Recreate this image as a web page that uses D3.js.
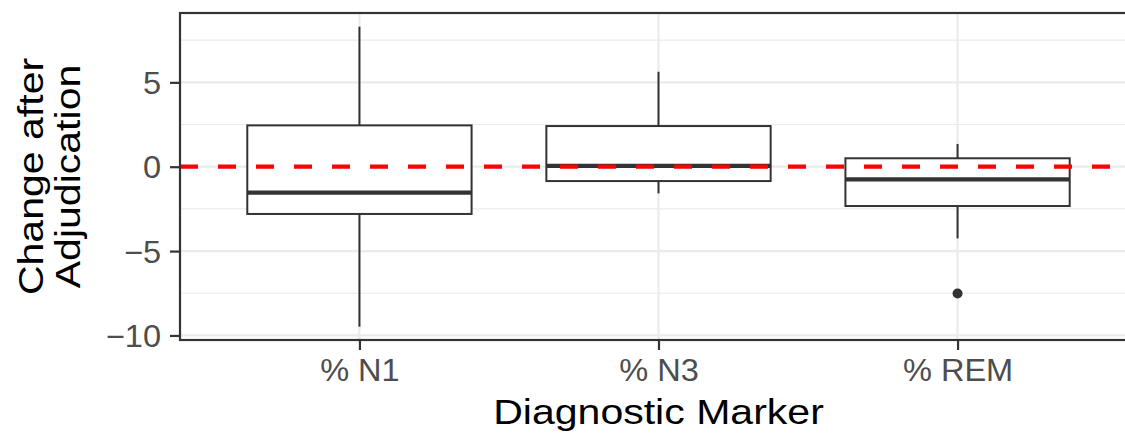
<!DOCTYPE html>
<html>
<head>
<meta charset="utf-8">
<script src="https://cdn.jsdelivr.net/npm/d3@7"></script>
<style>
  body { margin: 0; background: #fff; }
  svg { display: block; font-family: "Liberation Sans", Arial, sans-serif; }
</style>
</head>
<body>
<div id="chart"></div>
<script>
// boxplot stats
var markers = ["% N1", "% N3", "% REM"];
var whiskerLow = [-9.48, -1.58, -4.25];
var q1 = [-2.80, -0.85, -2.33];
var medians = [-1.54, 0.05, -0.75];
var q3 = [2.45, 2.41, 0.50];
var whiskerHigh = [8.30, 5.63, 1.35];
var outliers = [[], [], [-7.51]];

var yTicks = [-10, -5, 0, 5];
var yMinor = [-7.5, -2.5, 2.5, 7.5];

var width = 1125, height = 436;
var margin = { top: 13, left: 180, bottom: 96, right: -12 };
var innerwidth = width - margin.left - margin.right,
    innerheight = height - margin.top - margin.bottom;

var TICK_FONT = 31, TICK_SX = 1.05;
var TITLE_FONT = 36, TITLE_SX = 1.14;

var x_scale = d3.scalePoint()
    .domain(markers)
    .range([0, innerwidth])
    .padding(0.6);

var y_scale = d3.scaleLinear()
    .domain([-10.27, 9.11])
    .range([innerheight, 0]);

var boxWidth = x_scale.step() * 0.75;

var svg = d3.select("#chart").append("svg")
    .attr("width", width)
    .attr("height", height);

var g = svg.append("g")
    .attr("transform", "translate(" + margin.left + "," + margin.top + ")");

// grid
g.selectAll(".minor").data(yMinor).enter().append("line")
    .attr("x1", 0).attr("x2", innerwidth)
    .attr("y1", function (d) { return y_scale(d); })
    .attr("y2", function (d) { return y_scale(d); })
    .attr("stroke", "#EBEBEB").attr("stroke-width", 1.1);

g.selectAll(".major").data(yTicks).enter().append("line")
    .attr("x1", 0).attr("x2", innerwidth)
    .attr("y1", function (d) { return y_scale(d); })
    .attr("y2", function (d) { return y_scale(d); })
    .attr("stroke", "#EBEBEB").attr("stroke-width", 2.2);

g.selectAll(".vmajor").data(markers).enter().append("line")
    .attr("x1", function (d) { return x_scale(d); })
    .attr("x2", function (d) { return x_scale(d); })
    .attr("y1", 0).attr("y2", innerheight)
    .attr("stroke", "#EBEBEB").attr("stroke-width", 2.2);

// boxes
var boxes = g.selectAll(".box").data(markers).enter().append("g")
    .attr("class", "box");

boxes.append("line")
    .attr("x1", function (d) { return x_scale(d); })
    .attr("x2", function (d) { return x_scale(d); })
    .attr("y1", function (d, i) { return y_scale(whiskerHigh[i]); })
    .attr("y2", function (d, i) { return y_scale(q3[i]); })
    .attr("stroke", "#333").attr("stroke-width", 2);

boxes.append("line")
    .attr("x1", function (d) { return x_scale(d); })
    .attr("x2", function (d) { return x_scale(d); })
    .attr("y1", function (d, i) { return y_scale(q1[i]); })
    .attr("y2", function (d, i) { return y_scale(whiskerLow[i]); })
    .attr("stroke", "#333").attr("stroke-width", 2);

boxes.append("rect")
    .attr("x", function (d) { return x_scale(d) - boxWidth / 2; })
    .attr("width", boxWidth)
    .attr("y", function (d, i) { return y_scale(q3[i]); })
    .attr("height", function (d, i) { return y_scale(q1[i]) - y_scale(q3[i]); })
    .attr("fill", "#fff")
    .attr("stroke", "#333").attr("stroke-width", 2);

boxes.append("line")
    .attr("x1", function (d) { return x_scale(d) - boxWidth / 2; })
    .attr("x2", function (d) { return x_scale(d) + boxWidth / 2; })
    .attr("y1", function (d, i) { return y_scale(medians[i]); })
    .attr("y2", function (d, i) { return y_scale(medians[i]); })
    .attr("stroke", "#333").attr("stroke-width", 4.2);

boxes.selectAll("circle")
    .data(function (d, i) { return outliers[i].map(function (v) { return { k: d, v: v }; }); })
    .enter().append("circle")
    .attr("cx", function (d) { return x_scale(d.k); })
    .attr("cy", function (d) { return y_scale(d.v); })
    .attr("r", 5)
    .attr("fill", "#333");

// zero reference line
g.append("line")
    .attr("x1", 0).attr("x2", innerwidth)
    .attr("y1", y_scale(0)).attr("y2", y_scale(0))
    .attr("stroke", "#FF0000").attr("stroke-width", 4.2)
    .attr("stroke-dasharray", "18,20");

// panel border
g.append("rect")
    .attr("width", innerwidth).attr("height", innerheight)
    .attr("fill", "none")
    .attr("stroke", "#333").attr("stroke-width", 2.2);

// axes
var y_axis = g.append("g")
    .call(d3.axisLeft(y_scale).tickValues(yTicks).tickSize(10).tickPadding(9)
        .tickFormat(function (d) { return d < 0 ? "\u2212" + Math.abs(d) : d; }));
y_axis.select(".domain").remove();
y_axis.selectAll(".tick line").attr("stroke", "#333").attr("stroke-width", 2.2);
y_axis.selectAll(".tick text")
    .attr("fill", "#4D4D4D").style("font-size", TICK_FONT + "px").attr("dy", "0.36em")
    .attr("transform", function () {
        var tx = +d3.select(this).attr("x");
        return "translate(" + tx + ",0) scale(" + TICK_SX + ",1)";
    })
    .attr("x", 0);

var x_axis = g.append("g")
    .attr("transform", "translate(0," + innerheight + ")")
    .call(d3.axisBottom(x_scale).tickSize(10));
x_axis.select(".domain").remove();
x_axis.selectAll(".tick line").attr("stroke", "#333").attr("stroke-width", 2.2);
x_axis.selectAll(".tick text")
    .attr("fill", "#4D4D4D").style("font-size", TICK_FONT + "px")
    .attr("y", 0).attr("dy", 0)
    .attr("transform", "translate(0,41) scale(" + TICK_SX + ",1)");

// titles
svg.append("text")
    .attr("transform", "translate(" + (margin.left + x_scale("% N3")) + ",424) scale(" + TITLE_SX + ",1)")
    .attr("text-anchor", "middle")
    .style("font-size", TITLE_FONT + "px")
    .attr("fill", "#000")
    .text("Diagnostic Marker");

var ytitle = svg.append("text")
    .attr("transform", "translate(43," + (margin.top + innerheight / 2) + ") rotate(-90) scale(" + TITLE_SX + ",1)")
    .attr("text-anchor", "middle")
    .style("font-size", TITLE_FONT + "px")
    .attr("fill", "#000");
ytitle.append("tspan").attr("x", 0).attr("y", 0).text("Change after");
ytitle.append("tspan").attr("x", 0).attr("y", 37).text("Adjudication");
</script>
</body>
</html>
